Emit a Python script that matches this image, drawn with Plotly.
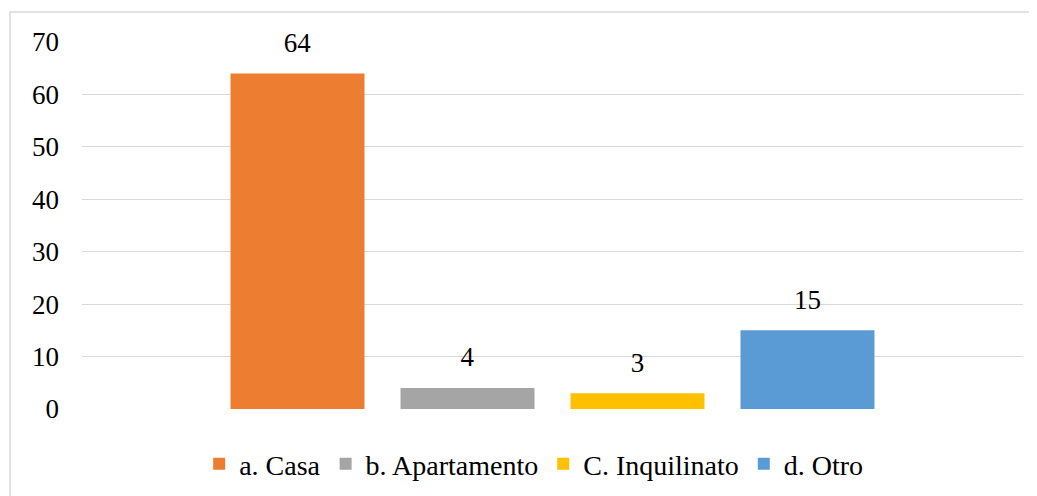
import plotly.graph_objects as go

categories = [""]
series_names = ["a. Casa", "b. Apartamento", "C. Inquilinato", "d. Otro"]
series_values = [64, 4, 3, 15]
series_colors = ["#ED7D31", "#A5A5A5", "#FFC000", "#5B9BD5"]
y_ticks = [0, 10, 20, 30, 40, 50, 60, 70]

FONT = "Liberation Serif, Times New Roman, serif"
FS = 27

fig = go.Figure()
for name, val, col in zip(series_names, series_values, series_colors):
    fig.add_trace(go.Bar(
        x=categories, y=[val], name=name,
        marker=dict(color=col, line=dict(width=0)),
        text=[f"<span style='font-size:{FS}px'>{val}</span><br>&nbsp;"],
        textposition="outside", cliponaxis=False,
        textfont=dict(family=FONT, size=12, color="#000000"),
    ))

fig.update_layout(
    width=1037, height=496,
    margin=dict(l=74, r=22, t=34, b=95),
    paper_bgcolor="white", plot_bgcolor="white",
    barmode="group", bargap=0.2774, bargroupgap=0.2118,
    font=dict(family=FONT, size=FS, color="#000000"),
    showlegend=True,
    uniformtext=dict(minsize=0),
    legend=dict(orientation="h", x=0.48, xanchor="center", y=-0.15, yanchor="middle",
                font=dict(family=FONT, size=28, color="#000000"),
                itemwidth=30, traceorder="normal"),
    xaxis=dict(showticklabels=False, showgrid=False, zeroline=False, showline=False),
    yaxis=dict(range=[0, 70], tickvals=y_ticks, showgrid=True, gridcolor="#D9D9D9",
               gridwidth=1, zeroline=False, showline=False,
               tickfont=dict(family=FONT, size=FS, color="#000000"),
               ticklabelstandoff=22),
    shapes=[dict(type="rect", xref="paper", yref="paper",
                 x0=-0.0765, x1=1.05, y0=-0.3, y1=1.0817,
                 line=dict(color="#D9D9D9", width=1.5), fillcolor="rgba(0,0,0,0)",
                 layer="below")],
)

fig.write_html("out.html")
